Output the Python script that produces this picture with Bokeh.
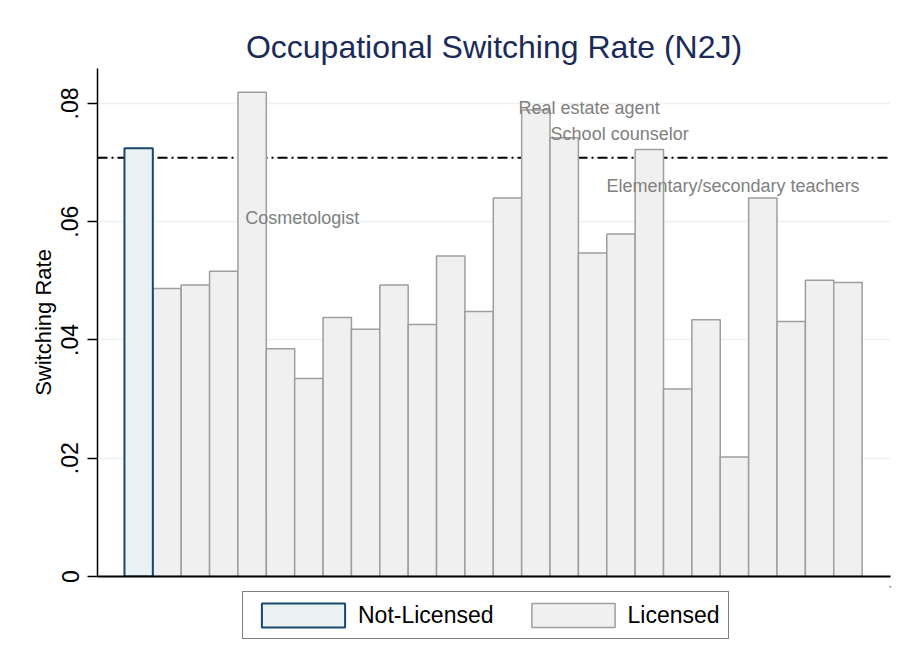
import math
from bokeh.plotting import figure
from bokeh.layouts import column
from bokeh.models import (ColumnDataSource, Range1d, FixedTicker, Span, Legend,
                          LegendItem)
from bokeh.core.properties import value
from bokeh.embed import file_html
from bokeh.resources import INLINE

# ---------------- data ----------------
title_text = "Occupational Switching Rate (N2J)"
y_label = "Switching Rate"
group_names = ["Not-Licensed", "Licensed"]

not_licensed_rate = [0.0724]
licensed_rates = [0.0487, 0.0493, 0.0516, 0.0819, 0.0385, 0.0335, 0.0438,
                  0.0418, 0.0493, 0.0426, 0.0542, 0.0448, 0.0640, 0.0789,
                  0.0742, 0.0547, 0.0579, 0.0722, 0.0317, 0.0434, 0.0202,
                  0.0640, 0.0431, 0.0501, 0.0497]
overall_rate = 0.0708

tick_values = [0, 0.02, 0.04, 0.06, 0.08]
tick_labels = ["0", ".02", ".04", ".06", ".08"]

annot_text = ["Cosmetologist", "Real estate agent", "School counselor",
              "Elementary/secondary teachers"]
annot_x = [4.76, 14.39, 15.52, 17.49]
annot_y = [0.0607, 0.0793, 0.0749, 0.0661]

# ---------------- styles ----------------
FONT = "Liberation Sans"
NL_FILL, NL_LINE = "#eaf2f3", "#1a476f"
LIC_FILL, LIC_LINE = "#f0f0f0", "#9e9e9e"

# ---------------- main figure ----------------
p = figure(frame_width=793, frame_height=508, output_backend="svg",
           toolbar_location=None,
           x_range=Range1d(-0.45, 27.5), y_range=Range1d(0, 0.0859),
           min_border_left=97, min_border_right=16, min_border_top=68,
           min_border_bottom=10)
p.background_fill_color = "white"
p.border_fill_color = "white"
p.outline_line_color = None

p.title.text = title_text
p.title.align = "center"
p.title.text_font = FONT
p.title.text_font_size = "32px"
p.title.text_font_style = "normal"
p.title.text_color = "#1a2b57"
p.title.standoff = 8

p.xgrid.grid_line_color = None
p.ygrid.ticker = FixedTicker(ticks=tick_values)
p.ygrid.grid_line_color = "#eaf2f3"
p.ygrid.grid_line_width = 1.5

# reference line (behind bars)
p.add_layout(Span(location=overall_rate, dimension="width", line_color="black",
                  line_width=2, line_dash="10 4 2 4", level="underlay"))

lic_src = ColumnDataSource(dict(x=list(range(2, 2 + len(licensed_rates))),
                                top=licensed_rates))
nl_src = ColumnDataSource(dict(x=[1], top=not_licensed_rate))

p.vbar(x="x", top="top", bottom=0, width=1, source=lic_src,
       fill_color=LIC_FILL, line_color=LIC_LINE, line_width=1.5)
p.vbar(x="x", top="top", bottom=0, width=1, source=nl_src,
       fill_color=NL_FILL, line_color=NL_LINE, line_width=2)

p.text(x=annot_x, y=annot_y, text=annot_text, text_font=value(FONT),
       text_font_size="18px", text_color="#808080", text_align="left",
       text_baseline="middle")

ya = p.yaxis[0]
ya.ticker = FixedTicker(ticks=tick_values)
ya.major_label_overrides = {v: l for v, l in zip(tick_values, tick_labels)}
ya.major_label_orientation = "vertical"
ya.major_label_text_font = FONT
ya.major_label_text_font_size = "23px"
ya.major_label_text_color = "black"
ya.major_label_standoff = 9
ya.major_tick_out = 10
ya.major_tick_in = 0
ya.major_tick_line_width = 1.5
ya.major_tick_line_color = "black"
ya.minor_tick_line_color = None
ya.axis_line_width = 1.5
ya.axis_line_color = "black"
ya.axis_label = y_label
ya.axis_label_text_font = FONT
ya.axis_label_text_font_size = "22px"
ya.axis_label_text_font_style = "normal"
ya.axis_label_text_color = "black"
ya.axis_label_standoff = 3

xa = p.xaxis[0]
xa.ticker = FixedTicker(ticks=[])
xa.major_tick_line_color = None
xa.minor_tick_line_color = None
xa.major_label_text_font_size = "0px"
xa.axis_line_width = 2
xa.axis_line_color = "black"

# ---------------- legend strip ----------------
# same bar sources, viewed through an empty window so only the legend shows
lg = figure(width=906, height=70, output_backend="svg", toolbar_location=None,
            x_range=Range1d(-100, -99), y_range=Range1d(-100, -99),
            x_axis_location=None, y_axis_location=None,
            min_border=0, min_border_left=0, min_border_right=0,
            min_border_top=0, min_border_bottom=0)
lg.grid.visible = False
lg.outline_line_color = None
lg.background_fill_color = "white"
lg.border_fill_color = "white"

g_nl = lg.vbar(x="x", top="top", bottom=0, width=1, source=nl_src,
               fill_color=NL_FILL, line_color=NL_LINE, line_width=2)
g_lic = lg.vbar(x="x", top="top", bottom=0, width=1, source=lic_src,
                fill_color=LIC_FILL, line_color=LIC_LINE, line_width=1.5)

legend = Legend(items=[LegendItem(label=group_names[0], renderers=[g_nl]),
                       LegendItem(label=group_names[1], renderers=[g_lic])],
                orientation="horizontal", location=(145, 17))
legend.border_line_color = "black"
legend.border_line_width = 1.5
legend.background_fill_color = "white"
legend.background_fill_alpha = 1
legend.padding = 8
legend.spacing = 27
legend.glyph_width = 104
legend.glyph_height = 30
legend.label_standoff = 3
legend.label_text_font = FONT
legend.label_text_font_size = "23px"
legend.label_text_color = "black"
legend.margin = 0
lg.add_layout(legend, "center")

layout = column(p, lg, spacing=0)

open("out.html", "w").write(file_html(layout, INLINE))
